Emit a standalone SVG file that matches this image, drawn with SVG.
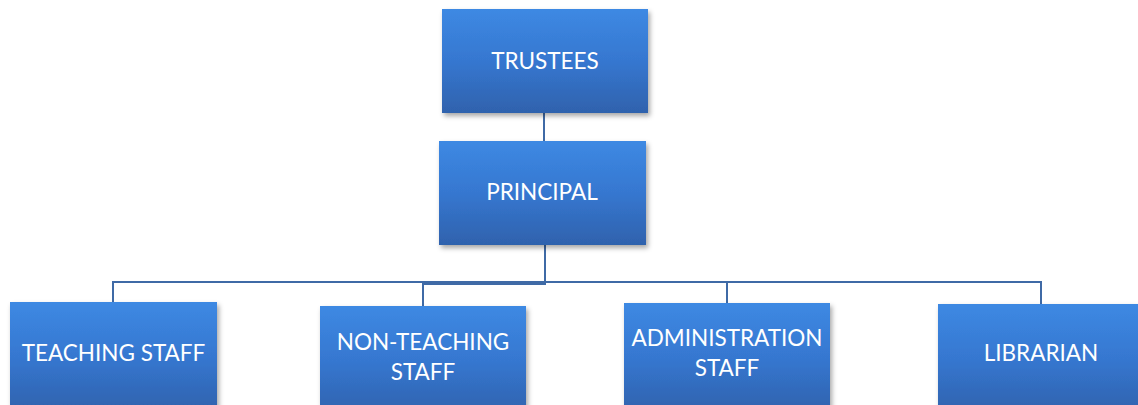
<svg xmlns="http://www.w3.org/2000/svg" width="1138" height="405" viewBox="0 0 1138 405">
<style>
.box{fill:url(#g);filter:url(#sh)}
.t{font-family:Lato,"Open Sans",sans-serif;font-size:22.5px;fill:#ffffff;text-anchor:middle}
.c{fill:none;stroke:#3f6aa6;stroke-width:2}
</style>
<defs>
<linearGradient id="g" x1="0" y1="0" x2="0" y2="1">
<stop offset="0" stop-color="#3d89e3"/>
<stop offset="0.5" stop-color="#3677d0"/>
<stop offset="1" stop-color="#2f62ad"/>
</linearGradient>
<filter id="sh" x="-10%" y="-10%" width="125%" height="130%">
<feDropShadow dx="2" dy="3" stdDeviation="2.5" flood-color="#000" flood-opacity="0.35"/>
</filter>
</defs>
<rect width="1138" height="405" fill="#ffffff"/>
<g id="connectors">
<path class="c" d="M544 113 V141"/>
<path class="c" d="M545 245 V284 H423 V306"/>
<path class="c" d="M113 302 V282 H1041 V304"/>
<path class="c" d="M727 282 V303"/>
</g>
<g id="trustees">
<rect class="box" x="442" y="9" width="206" height="104"/>
<text class="t" x="545" y="69">TRUSTEES</text>
</g>
<g id="principal">
<rect class="box" x="439" y="141" width="207" height="104"/>
<text class="t" x="542" y="200">PRINCIPAL</text>
</g>
<g id="teaching-staff">
<rect class="box" x="10" y="302" width="207" height="110"/>
<text class="t" x="113.5" y="361">TEACHING STAFF</text>
</g>
<g id="non-teaching-staff">
<rect class="box" x="320" y="306" width="206" height="110"/>
<text class="t" x="423" y="350">NON-TEACHING</text>
<text class="t" x="423" y="380">STAFF</text>
</g>
<g id="administration-staff">
<rect class="box" x="624" y="303" width="206" height="110"/>
<text class="t" x="727" y="346">ADMINISTRATION</text>
<text class="t" x="727" y="376">STAFF</text>
</g>
<g id="librarian">
<rect class="box" x="938" y="304" width="206" height="110"/>
<text class="t" x="1041" y="361">LIBRARIAN</text>
</g>
</svg>
